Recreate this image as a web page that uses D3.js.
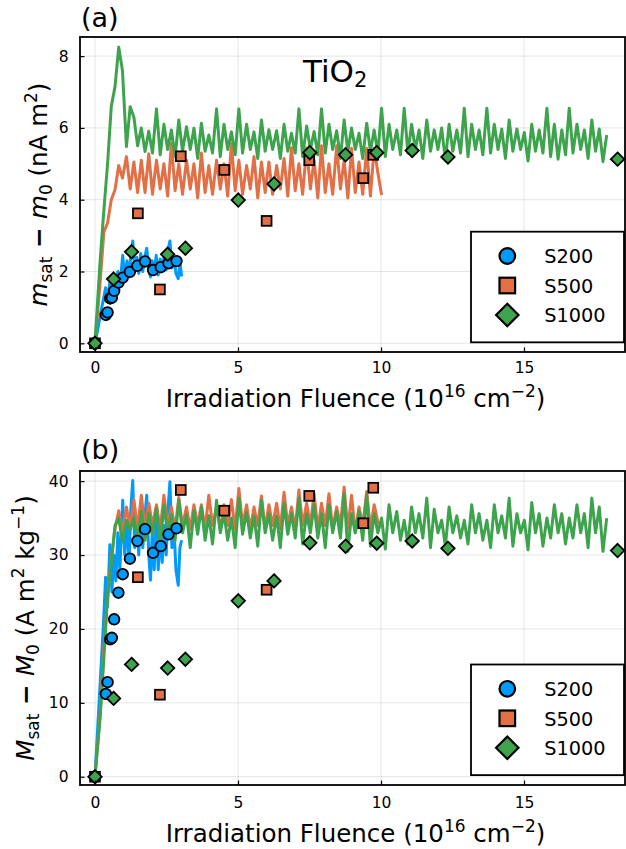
<!DOCTYPE html>
<html><head><meta charset="utf-8">
<script src="https://cdn.jsdelivr.net/npm/d3@7"></script>
<style>body{margin:0;background:#fff;} text{font-family:"DejaVu Sans",sans-serif;}</style>
</head><body>
<svg id="c" width="626" height="849"></svg>
<script>
// ---------------- DATA ----------------
const xTicks = [0, 5, 10, 15];
const yTicksA = [0, 2, 4, 6, 8];
const yTicksB = [0, 10, 20, 30, 40];
const seriesNames = ["S200", "S500", "S1000"];

// simulated curves: shared fluence grid for S500 / S1000
const fluenceGrid = [0, 0.18, 0.31, 0.44, 0.57, 0.70, 0.83, 0.96, 1.10, 1.23, 1.36, 1.49,
  1.62, 1.75, 1.88, 2.01, 2.15, 2.28, 2.41, 2.54, 2.67, 2.80,
  2.93, 3.06, 3.20, 3.33, 3.46, 3.59, 3.72, 3.85, 3.98, 4.11,
  4.25, 4.38, 4.51, 4.64, 4.77, 4.90, 5.03, 5.16, 5.30, 5.43,
  5.56, 5.69, 5.82, 5.95, 6.08, 6.21, 6.35, 6.48, 6.61, 6.74,
  6.87, 7.00, 7.13, 7.26, 7.40, 7.53, 7.66, 7.79, 7.92, 8.05,
  8.18, 8.31, 8.45, 8.58, 8.71, 8.84, 8.97, 9.10, 9.23, 9.36,
  9.50, 9.63, 9.76, 9.89, 10.02, 10.15, 10.28, 10.41, 10.55, 10.68,
  10.81, 10.94, 11.07, 11.20, 11.33, 11.46, 11.60, 11.73, 11.86, 11.99,
  12.12, 12.25, 12.38, 12.51, 12.65, 12.78, 12.91, 13.04, 13.17, 13.30,
  13.43, 13.56, 13.70, 13.83, 13.96, 14.09, 14.22, 14.35, 14.48, 14.61,
  14.75, 14.88, 15.01, 15.14, 15.27, 15.40, 15.53, 15.66, 15.80, 15.93,
  16.06, 16.19, 16.32, 16.45, 16.58, 16.71, 16.85, 16.98, 17.11, 17.24,
  17.37, 17.50, 17.63, 17.76, 17.89];

const lineS1000A = [0, 2.3, 3.7, 5.0, 6.6, 7.15, 8.25, 7.6, 5.48, 6.59, 6.3, 5.5,
  6.0, 5.34, 5.91, 5.3, 6.53, 5.25, 6.1, 5.4, 5.94, 5.2,
  6.22, 5.35, 6.03, 5.4, 5.99, 5.15, 6.13, 5.35, 5.8, 5.3,
  6.53, 5.2, 6.1, 5.4, 5.89, 5.25, 6.53, 5.3, 6.1, 5.4,
  5.89, 5.15, 6.22, 5.35, 5.95, 5.4, 5.92, 5.15, 6.1, 5.35,
  5.85, 5.3, 6.53, 5.2, 6.05, 5.4, 5.9, 5.25, 6.53, 5.3,
  6.1, 5.4, 5.92, 5.15, 6.22, 5.35, 6.0, 5.4, 5.85, 5.15,
  6.13, 5.35, 5.94, 5.3, 6.55, 5.2, 6.1, 5.4, 5.94, 5.25,
  6.55, 5.3, 6.1, 5.4, 5.94, 5.15, 6.22, 5.35, 5.94, 5.4,
  6.0, 5.1, 6.1, 5.35, 5.94, 5.3, 6.55, 5.2, 6.1, 5.4,
  5.94, 5.25, 6.55, 5.3, 6.1, 5.4, 5.97, 5.15, 6.22, 5.35,
  5.97, 5.4, 5.87, 5.08, 6.1, 5.35, 5.94, 5.3, 6.55, 5.2,
  6.1, 5.13, 5.94, 5.25, 6.55, 5.3, 6.1, 5.4, 5.94, 5.15,
  6.22, 5.35, 5.97, 5.06, 5.8];

const lineS500A = [0, 1.7, 3.1, 3.35, 4.0, 4.28, 4.95, 4.6, 5.2, 4.3, 5.05, 4.2,
  5.1, 4.2, 5.28, 4.15, 5.1, 4.3, 5.0, 4.1, 5.57, 4.25,
  5.0, 4.15, 5.1, 4.3, 5.0, 4.05, 5.3, 4.2, 4.95, 4.15,
  5.1, 4.3, 5.0, 4.1, 5.57, 4.25, 5.1, 4.15, 4.95, 4.3,
  5.2, 4.05, 5.05, 4.2, 5.05, 4.15, 4.95, 4.3, 5.15, 4.1,
  5.45, 4.25, 5.0, 4.15, 5.45, 4.3, 5.1, 4.05, 5.5, 4.2,
  5.0, 4.15, 5.5, 4.3, 5.1, 4.05, 5.43, 4.2, 5.05, 4.15,
  5.43, 4.1, 5.43, 4.75, 4.13];

const lineS1000B = [0, 8, 16, 24.5, 29, 34, 35, 31.8, 34.7, 33.4, 35.0, 32.1,
  35.9, 32.0, 35.7, 32.8, 36.3, 31.5, 36.8, 32.8, 35.5, 32.0,
  37.4, 33.0, 35.5, 31.0, 36.0, 32.8, 36.5, 32.0, 35.3, 31.5,
  37.4, 33.0, 35.6, 32.0, 35.0, 31.0, 37.7, 32.8, 35.8, 32.3,
  35.3, 31.2, 37.4, 33.0, 35.6, 32.0, 35.3, 31.0, 37.0, 32.8,
  35.6, 32.3, 37.7, 31.5, 35.6, 33.0, 36.8, 32.3, 35.6, 31.0,
  36.8, 33.0, 35.9, 32.3, 38.3, 30.5, 35.6, 33.0, 36.0, 32.0,
  38.1, 31.2, 35.6, 33.0, 35.0, 30.8, 36.8, 33.0, 35.9, 32.0,
  34.7, 31.5, 36.5, 33.0, 35.6, 32.3, 37.7, 31.0, 36.2, 33.0,
  34.7, 31.2, 36.5, 33.0, 35.3, 32.3, 34.7, 31.5, 36.8, 33.0,
  35.6, 32.0, 34.7, 31.0, 36.8, 33.0, 35.3, 32.3, 37.7, 31.2,
  35.6, 33.0, 34.7, 30.7, 37.1, 33.0, 35.6, 31.2, 35.0, 32.3,
  36.8, 33.0, 35.6, 31.5, 35.0, 32.3, 36.8, 33.0, 35.6, 31.0,
  37.7, 33.0, 36.5, 30.5, 35.0];

const lineS500B = [0, 8.5, 17.5, 24.5, 29.5, 33.5, 36, 33, 36.5, 33.5, 37.5, 33.5,
  38.1, 33.5, 37.0, 34.0, 36.8, 33.5, 38.1, 34.0, 36.5, 33.5,
  37.8, 34.0, 36.5, 33.5, 36.8, 34.0, 36.8, 33.5, 38.1, 34.0,
  36.5, 33.5, 36.8, 34.0, 37.5, 33.5, 39.0, 34.0, 36.8, 33.5,
  36.5, 34.0, 38.0, 33.5, 36.8, 34.0, 37.0, 33.5, 38.5, 34.0,
  36.5, 33.5, 38.8, 34.0, 37.0, 34.0, 38.3, 33.5, 37.0, 34.0,
  38.3, 33.5, 36.5, 34.0, 39.2, 33.5, 38.1, 33.0, 36.5, 34.0,
  38.6, 33.5, 36.8, 34.5, 33.8];

// S200 simulated curve grid
const fluenceS200 = [0, 0.1, 0.2, 0.3, 0.37, 0.44, 0.52, 0.59, 0.66, 0.73, 0.8, 0.87,
  0.97, 1.04, 1.12, 1.19, 1.25, 1.32, 1.39, 1.46, 1.53, 1.6, 1.67, 1.74, 1.81, 1.88, 1.94, 2.0,
  2.07, 2.14, 2.21, 2.28, 2.35, 2.42, 2.49, 2.55, 2.62, 2.69, 2.76, 2.83, 2.91, 2.97, 3.03];
const lineS200A = [0, 0.4, 0.85, 1.25, 1.55, 1.2, 1.7, 1.35, 1.85, 1.5, 2.0, 1.6,
  2.45, 1.8, 2.3, 1.85, 2.4, 2.85, 2.0, 2.4, 1.95, 2.5, 2.0, 2.4, 2.65, 2.05, 1.85, 2.3,
  1.95, 2.45, 1.9, 2.35, 2.0, 2.45, 2.05, 2.6, 2.85, 2.1, 2.4, 1.95, 1.8, 2.25, 1.86];
const lineS200B = [0, 7, 14, 21, 27, 23, 31.4, 25, 30, 26.5, 33, 28,
  37.4, 30, 34.5, 29, 36, 40.1, 31, 35, 30, 36.5, 31, 35, 38.1, 30, 26.6, 33,
  28, 35, 28, 33, 29, 34, 30, 36, 39.9, 31, 34, 28, 25.9, 31, 32];

// measured points
const s200X = [0, 0.38, 0.44, 0.53, 0.59, 0.67, 0.82, 0.97, 1.22, 1.48, 1.75, 2.03, 2.30, 2.57, 2.85];
const s200A = [0, 0.79, 0.86, 1.25, 1.27, 1.46, 1.69, 1.83, 1.99, 2.16, 2.28, 2.04, 2.12, 2.23, 2.29];
const s200B = [0, 11.2, 12.8, 18.6, 18.8, 21.3, 24.9, 27.4, 29.5, 31.9, 33.5, 30.3, 31.2, 32.8, 33.6];

const s500X = [0, 1.5, 2.27, 3.0, 4.52, 6.0, 7.49, 9.38, 9.73];
const s500A = [0, 3.62, 1.50, 5.21, 4.83, 3.41, 5.10, 4.60, 5.25];
const s500B = [0, 27.0, 11.1, 38.8, 36.0, 25.3, 38.0, 34.3, 39.1];

const s1000X = [0, 0.65, 1.28, 2.54, 3.16, 5.01, 6.26, 7.51, 8.76, 9.85, 11.09, 12.34, 18.27];
const s1000A = [0, 1.79, 2.55, 2.48, 2.65, 3.99, 4.44, 5.31, 5.25, 5.31, 5.37, 5.19, 5.13];
const s1000B = [0, 10.6, 15.2, 14.7, 15.9, 23.8, 26.5, 31.65, 31.2, 31.6, 31.9, 30.9, 30.6];

// ---------------- DRAW ----------------
const colors = { S200: "#009AFA", S500: "#E26F46", S1000: "#3DA44D" };
const svg = d3.select("#c");
const L = 80, R = 625;

function marker(sel, shape, size) {
  if (shape === "circle") {
    return sel.append("circle").attr("r", size);
  } else if (shape === "square") {
    return sel.append("rect").attr("x", -size).attr("y", -size).attr("width", 2 * size).attr("height", 2 * size);
  } else {
    return sel.append("path").attr("d", `M0,${-size}L${size},0L0,${size}L${-size},0Z`);
  }
}
const shapes = { S200: "circle", S500: "square", S1000: "diamond" };
const msize = { S200: 5.3, S500: 4.9, S1000: 6.7 };
const lsize = { S200: 7.8, S500: 7.8, S1000: 11.2 };

function drawPanel(p) {
  const g = svg.append("g");
  const x = d3.scaleLinear().domain([-0.524, 18.53]).range([L, R]);
  const y = d3.scaleLinear().domain(p.yDomain).range([p.bottom, p.top]);

  // grid
  g.append("g").selectAll("line").data(xTicks).join("line")
    .attr("x1", d => x(d)).attr("x2", d => x(d)).attr("y1", p.top).attr("y2", p.bottom)
    .attr("stroke", "#000").attr("stroke-opacity", 0.1).attr("stroke-width", 1);
  g.append("g").selectAll("line").data(p.yTicks).join("line")
    .attr("y1", d => y(d)).attr("y2", d => y(d)).attr("x1", L).attr("x2", R)
    .attr("stroke", "#000").attr("stroke-opacity", 0.1).attr("stroke-width", 1);

  const cid = "clip" + p.id;
  svg.append("clipPath").attr("id", cid).append("rect")
    .attr("x", L).attr("y", p.top).attr("width", R - L).attr("height", p.bottom - p.top);

  const line = d3.line().x(d => x(d[0])).y(d => y(d[1]));
  const lg = g.append("g").attr("clip-path", `url(#${cid})`);
  p.lines.forEach(l => {
    lg.append("path").datum(l.x.map((v, i) => [v, l.y[i]]))
      .attr("d", line).attr("fill", "none").attr("stroke", colors[l.name])
      .attr("stroke-width", 3).attr("stroke-linejoin", "round");
  });

  p.points.forEach(s => {
    const mg = g.append("g");
    s.x.forEach((v, i) => {
      const t = mg.append("g").attr("transform", `translate(${x(v)},${y(s.y[i])})`);
      marker(t, shapes[s.name], msize[s.name])
        .attr("fill", colors[s.name]).attr("stroke", "#000").attr("stroke-width", 1.8);
    });
  });

  // axes
  const ax = g.append("g").attr("transform", `translate(0,${p.bottom})`)
    .call(d3.axisBottom(x).tickValues(xTicks).tickSize(-4.5).tickPadding(p.xPad).tickFormat(d3.format("d")));
  ax.select(".domain").remove();
  ax.attr("font-family", null).attr("font-size", null);
  ax.selectAll("text").attr("font-size", 15.5).attr("fill", "#000");
  ax.selectAll("line").attr("stroke", "#000").attr("stroke-width", 1.2);

  const ay = g.append("g").attr("transform", `translate(${L},0)`)
    .call(d3.axisLeft(y).tickValues(p.yTicks).tickSize(-4.5).tickPadding(11.5).tickFormat(d3.format("d")));
  ay.select(".domain").remove();
  ay.attr("font-family", null).attr("font-size", null);
  ay.selectAll("text").attr("font-size", 15.5).attr("fill", "#000");
  ay.selectAll("line").attr("stroke", "#000").attr("stroke-width", 1.2);

  // frame
  g.append("rect").attr("x", L).attr("y", p.top).attr("width", R - L).attr("height", p.bottom - p.top)
    .attr("fill", "none").attr("stroke", "#000").attr("stroke-width", 1.8);

  // panel title
  g.append("text").attr("x", 81).attr("y", p.titleY).attr("font-size", 27).text(p.title);

  // x label
  const xl = g.append("text").attr("x", (L + R) / 2 + 3).attr("y", p.xLabelY)
    .attr("text-anchor", "middle").attr("font-size", 24.5);
  xl.append("tspan").text("Irradiation Fluence (10");
  xl.append("tspan").attr("font-size", 17).attr("dy", -10).text("16");
  xl.append("tspan").attr("dy", 10).text(" cm");
  xl.append("tspan").attr("font-size", 17).attr("dy", -10).text("\u22122");
  xl.append("tspan").attr("dy", 10).text(")");

  // y label
  const yl = g.append("text")
    .attr("transform", `translate(${p.yLabelX},${(p.top + p.bottom) / 2}) rotate(-90)`)
    .attr("text-anchor", "middle").attr("font-size", 24.5);
  p.yLabel(yl);

  // legend
  const lgx = 471, lgw = 153, lgh = 110.6;
  const leg = g.append("g");
  leg.append("rect").attr("x", lgx).attr("y", p.legTop).attr("width", lgw).attr("height", lgh)
    .attr("fill", "#fff").attr("stroke", "#000").attr("stroke-width", 1.8);
  seriesNames.forEach((n, i) => {
    const cy = p.legTop + 24.3 + i * 29.5;
    const t = leg.append("g").attr("transform", `translate(507.3,${cy})`);
    marker(t, shapes[n], lsize[n]).attr("fill", colors[n]).attr("stroke", "#000").attr("stroke-width", 2.2);
    leg.append("text").attr("x", 544.3).attr("y", cy + 7.2).attr("font-size", 19.3).text(n);
  });
}

// Panel (a)
drawPanel({
  id: "a", top: 37, bottom: 352, yDomain: [-0.242, 8.532], yTicks: yTicksA,
  xPad: 9.5, title: "(a)", titleY: 26.5, xLabelY: 406.5, yLabelX: 47, legTop: 231.7,
  lines: [
    { name: "S200", x: fluenceS200, y: lineS200A },
    { name: "S500", x: fluenceGrid.slice(0, lineS500A.length), y: lineS500A },
    { name: "S1000", x: fluenceGrid, y: lineS1000A }
  ],
  points: [
    { name: "S200", x: s200X, y: s200A },
    { name: "S500", x: s500X, y: s500A },
    { name: "S1000", x: s1000X, y: s1000A }
  ],
  yLabel: t => {
    t.append("tspan").attr("font-style", "italic").text("m");
    t.append("tspan").attr("font-size", 17).attr("dy", 5).text("sat");
    t.append("tspan").attr("dy", -5).attr("font-weight", "bold").text(" \u2212 ");
    t.append("tspan").attr("font-style", "italic").text("m");
    t.append("tspan").attr("font-size", 17).attr("dy", 5).text("0");
    t.append("tspan").attr("dy", -5).text(" (nA m");
    t.append("tspan").attr("font-size", 17).attr("dy", -10).text("2");
    t.append("tspan").attr("dy", 10).text(")");
  }
});

// Panel (b)
drawPanel({
  id: "b", top: 471, bottom: 785, yDomain: [-1.12, 41.37], yTicks: yTicksB,
  xPad: 11.5, title: "(b)", titleY: 458.5, xLabelY: 841.5, yLabelX: 34, legTop: 664.5,
  lines: [
    { name: "S200", x: fluenceS200, y: lineS200B },
    { name: "S500", x: fluenceGrid.slice(0, lineS500B.length), y: lineS500B },
    { name: "S1000", x: fluenceGrid, y: lineS1000B }
  ],
  points: [
    { name: "S200", x: s200X, y: s200B },
    { name: "S500", x: s500X, y: s500B },
    { name: "S1000", x: s1000X, y: s1000B }
  ],
  yLabel: t => {
    t.append("tspan").attr("font-style", "italic").text("M");
    t.append("tspan").attr("font-size", 17).attr("dy", 5).text("sat");
    t.append("tspan").attr("dy", -5).attr("font-weight", "bold").text(" \u2212 ");
    t.append("tspan").attr("font-style", "italic").text("M");
    t.append("tspan").attr("font-size", 17).attr("dy", 5).text("0");
    t.append("tspan").attr("dy", -5).text(" (A m");
    t.append("tspan").attr("font-size", 17).attr("dy", -10).text("2");
    t.append("tspan").attr("dy", 10).text(" kg");
    t.append("tspan").attr("font-size", 17).attr("dy", -10).text("\u22121");
    t.append("tspan").attr("dy", 10).text(")");
  }
});

// annotation
const ann = svg.append("text").attr("x", 303).attr("y", 81.5).attr("font-size", 31).text("TiO");
ann.append("tspan").attr("font-size", 21).attr("dy", 5).text("2");
</script>
</body></html>
